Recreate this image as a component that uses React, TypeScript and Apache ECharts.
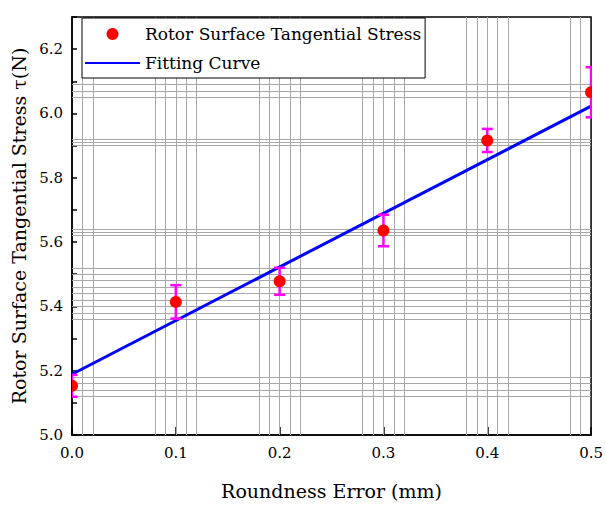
import React, { useEffect, useRef } from 'react';
import * as echarts from 'echarts';

const xValues = [0, 0.1, 0.2, 0.3, 0.4, 0.5];
const stressValues = [5.153, 5.414, 5.478, 5.636, 5.916, 6.066];
const stressErrors = [0.034, 0.052, 0.042, 0.049, 0.036, 0.078];
const fitX = [0, 0.5];
const fitY = [5.189, 6.023];
const xGridLines = [0.01, 0.02, 0.08, 0.09, 0.1, 0.11, 0.12, 0.18, 0.19, 0.2, 0.21, 0.22, 0.28, 0.29, 0.3, 0.31, 0.32, 0.38, 0.39, 0.4, 0.41, 0.42, 0.48, 0.49];
const yGridLines = [6.09, 6.069, 6.054, 5.919, 5.911, 5.903, 5.638, 5.631, 5.624, 5.619, 5.519, 5.498, 5.479, 5.459, 5.44, 5.419, 5.398, 5.378, 5.357, 5.177, 5.156, 5.138, 5.117];
const seriesName = 'Rotor Surface Tangential Stress';
const fitName = 'Fitting Curve';
const xTitle = 'Roundness Error (mm)';
const yTitle = 'Rotor Surface Tangential Stress τ(N)';

const FONT = 'DejaVu Serif';

export default function App() {
  const ref = useRef<HTMLDivElement>(null);
  useEffect(() => {
    const chart = echarts.init(ref.current!, null, { renderer: 'svg' });
    chart.setOption({
      animation: false,
      backgroundColor: '#fff',
      grid: { left: 72, right: 12, top: 17, bottom: 69, show: true, borderColor: '#000', borderWidth: 1.5, backgroundColor: 'transparent' },
      legend: {
        orient: 'vertical', left: 82, top: 18,
        data: [
          { name: seriesName, icon: 'circle' },
          { name: fitName, itemStyle: { opacity: 0 } },
        ],
        itemWidth: 55, itemHeight: 12, itemGap: 9,
        padding: [6, 4, 5, 2],
        borderColor: '#000', borderWidth: 1, backgroundColor: '#fff',
        textStyle: { fontFamily: FONT, fontSize: 17, color: '#000', lineHeight: 20 },
        selectedMode: false,
        z: 10,
      },
      xAxis: {
        type: 'value', min: 0, max: 0.5, interval: 0.1,
        name: xTitle, nameLocation: 'middle', nameGap: 46,
        nameTextStyle: { fontFamily: FONT, fontSize: 19, color: '#000' },
        axisLine: { lineStyle: { color: '#000', width: 1.5 } },
        axisTick: { inside: true, length: 8, lineStyle: { color: '#000', width: 1.5 } },
        axisLabel: { fontFamily: FONT, fontSize: 15, color: '#000', margin: 10, formatter: (v: number) => v.toFixed(1) },
        splitLine: { show: false },
      },
      yAxis: {
        type: 'value', min: 5.0, max: 6.3, interval: 0.2,
        name: yTitle, nameLocation: 'middle', nameGap: 32, nameRotate: 90,
        nameTextStyle: { fontFamily: FONT, fontSize: 19, color: '#000' },
        axisLine: { show: true, lineStyle: { color: '#000', width: 1.5 } },
        axisTick: { inside: true, length: 5, lineStyle: { color: '#000', width: 1.5 } },
        minorTick: { show: true, splitNumber: 2, length: 5, lineStyle: { color: '#000', width: 1.5 } },
        axisLabel: { fontFamily: FONT, fontSize: 15, color: '#000', margin: 9, showMaxLabel: false, formatter: (v: number) => v.toFixed(1) },
        splitLine: { show: false },
      },
      series: [
        {
          name: 'grid-lines', type: 'line', data: [], z: 1, silent: true,
          markLine: {
            z: 1,
            silent: true, symbol: ['none', 'none'], label: { show: false },
            lineStyle: { color: '#a8a8a8', width: 1, type: 'solid' },
            emphasis: { disabled: true },
            data: [
              ...xGridLines.map((v) => ({ xAxis: v })),
              ...yGridLines.map((v) => ({ yAxis: v })),
            ],
          },
        },
        {
          name: fitName, type: 'line', symbol: 'none', z: 3,
          data: fitX.map((x, i) => [x, fitY[i]]),
          lineStyle: { color: '#0000ff', width: 3 },
          itemStyle: { color: '#0000ff' },
        },
        {
          name: seriesName, type: 'custom', z: 4, clip: true,
          itemStyle: { color: '#ff0000' },
          encode: { x: 0, y: 1 },
          data: xValues.map((x, i) => [x, stressValues[i], stressErrors[i]]),
          renderItem: (params: any, api: any) => {
            const x = api.value(0), y = api.value(1), e = api.value(2);
            const c = api.coord([x, y]);
            const hi = api.coord([x, y + e]);
            const lo = api.coord([x, y - e]);
            const cap = 5.5;
            const bar = { stroke: '#ff00ff', lineWidth: 2.5 };
            return {
              type: 'group',
              children: [
                { type: 'line', shape: { x1: c[0], y1: hi[1], x2: c[0], y2: lo[1] }, style: bar },
                { type: 'line', shape: { x1: c[0] - cap, y1: hi[1], x2: c[0] + cap, y2: hi[1] }, style: bar },
                { type: 'line', shape: { x1: c[0] - cap, y1: lo[1], x2: c[0] + cap, y2: lo[1] }, style: bar },
                { type: 'circle', shape: { cx: c[0], cy: c[1], r: 6 }, style: { fill: '#ff0000', stroke: 'none', lineWidth: 0 } },
              ],
            };
          },
        },
      ],
    });
    return () => chart.dispose();
  }, []);
  return <div ref={ref} style={{ position: 'fixed', left: 0, top: 0, width: 606, height: 505 }} />;
}
